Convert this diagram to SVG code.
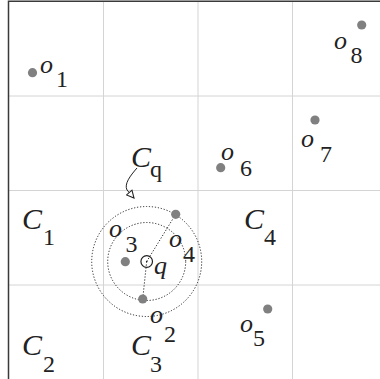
<svg xmlns="http://www.w3.org/2000/svg" width="380" height="379" viewBox="0 0 380 379">
<style>
.grid{stroke:#d4d4d4;stroke-width:1;fill:none}
.border{stroke:#3a3a3a;stroke-width:1.5;fill:none}
.pt{fill:#808080}
.dot{stroke:#222;stroke-width:1;stroke-dasharray:1.2 1.8;fill:none}
text{font-family:'Liberation Serif','Times New Roman',serif;fill:#222}
.i{font-style:italic}
.o{font-size:26px}
.c{font-size:30px}
.s{font-size:24px}
</style>
<defs>
<marker id="ah" viewBox="0 0 10 10" refX="9" refY="5" markerWidth="9" markerHeight="9" markerUnits="userSpaceOnUse" orient="auto">
<path d="M1,1 L9,5 L1,9 Z" fill="#fff" stroke="#222" stroke-width="1.2"/>
</marker>
</defs>
<g id="grid">
<line class="grid" x1="103.5" y1="1" x2="103.5" y2="379"/>
<line class="grid" x1="198" y1="1" x2="198" y2="379"/>
<line class="grid" x1="292.5" y1="1" x2="292.5" y2="379"/>
<line class="grid" x1="8" y1="96" x2="380" y2="96"/>
<line class="grid" x1="8" y1="190.5" x2="380" y2="190.5"/>
<line class="grid" x1="8" y1="285" x2="380" y2="285"/>
<path class="border" d="M8.5,379 L8.5,1.2 L380,1.2"/>
</g>
<g id="connectors">
<circle class="dot" cx="146.7" cy="261.5" r="55"/>
<circle class="dot" cx="146.7" cy="261.5" r="39"/>
<line class="dot" x1="146.7" y1="261.5" x2="175.7" y2="214.3"/>
<line class="dot" x1="146.7" y1="261.5" x2="142.7" y2="299"/>
<path d="M137,168 C130,176 124,184 127,190 L134,198" fill="none" stroke="#222" stroke-width="1" marker-end="url(#ah)"/>
</g>
<g id="q">
<circle cx="146.7" cy="261.5" r="5.8" fill="none" stroke="#222" stroke-width="1.2"/>
<circle cx="146.7" cy="261.5" r="0.8" fill="#222"/>
<text class="i o" x="154" y="274">q</text>
</g>
<g id="o1"><circle class="pt" cx="32.5" cy="72.7" r="4.6"/><text class="i o" x="40" y="72.5">o</text><text class="s" x="56" y="86.5">1</text></g>
<g id="o8"><circle class="pt" cx="361.7" cy="25" r="4.6"/><text class="i o" x="334" y="49">o</text><text class="s" x="350.5" y="63">8</text></g>
<g id="o7"><circle class="pt" cx="315" cy="120" r="4.6"/><text class="i o" x="301" y="146.5">o</text><text class="s" x="320" y="161.5">7</text></g>
<g id="o6"><circle class="pt" cx="220.7" cy="167.7" r="4.6"/><text class="i o" x="221" y="160">o</text><text class="s" x="240" y="175.5">6</text></g>
<g id="o3"><circle class="pt" cx="125.3" cy="261.7" r="4.6"/><text class="i o" x="109" y="236.5">o</text><text class="s" x="125.5" y="251.5">3</text></g>
<g id="o4"><circle class="pt" cx="175.7" cy="214.3" r="4.6"/><text class="i o" x="169" y="246.5">o</text><text class="s" x="183" y="261.5">4</text></g>
<g id="o2"><circle class="pt" cx="142.7" cy="299" r="4.6"/><text class="i o" x="150" y="322.5">o</text><text class="s" x="164" y="342">2</text></g>
<g id="o5"><circle class="pt" cx="267.7" cy="309" r="4.6"/><text class="i o" x="240" y="331.5">o</text><text class="s" x="253" y="345.5">5</text></g>
<g id="C1"><text class="i c" x="22" y="228.5">C</text><text class="s" x="43" y="245">1</text></g>
<g id="C4"><text class="i c" x="244" y="228.5">C</text><text class="s" x="264" y="245">4</text></g>
<g id="C2"><text class="i c" x="22" y="355">C</text><text class="s" x="43" y="371.5">2</text></g>
<g id="C3"><text class="i c" x="131" y="355">C</text><text class="s" x="150" y="371.5">3</text></g>
<g id="Cq"><text class="i c" x="131" y="166.5">C</text><text class="s" x="150" y="176.5">q</text></g>
</svg>
